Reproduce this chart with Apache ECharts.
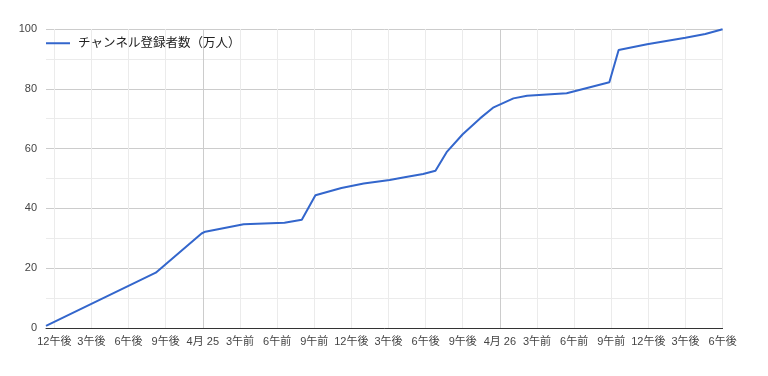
<!DOCTYPE html>
<html>
<head>
<meta charset="utf-8">
<script src="https://cdn.jsdelivr.net/npm/echarts@6/dist/echarts.min.js"></script>
<style>
  html, body { margin: 0; padding: 0; background: #fff; }
  #chart { width: 768px; height: 376px; }
</style>
</head>
<body>
<div id="chart"></div>
<script>
// hours counted from 4月24 12:00 (12午後)
var hours = [-0.67, 8.2, 11.9, 12.2, 15.3, 18.6, 20.0, 21.1, 23.2, 25.0, 27.1, 28.3, 29.8, 30.8,
             31.7, 33.0, 34.4, 35.5, 37.1, 38.2, 41.4, 44.85, 45.6, 47.9, 51.0, 52.6, 54.0];
var subscribers = [0.7, 18.5, 31.6, 32.2, 34.7, 35.2, 36.2, 44.4, 46.8, 48.3, 49.5, 50.4, 51.5, 52.6,
                   58.8, 64.8, 70.1, 73.8, 76.8, 77.7, 78.5, 82.2, 93.0, 94.9, 97.1, 98.3, 99.9];
var tickLabels = ['12午後', '3午後', '6午後', '9午後', '4月 25', '3午前', '6午前', '9午前',
                  '12午後', '3午後', '6午後', '9午後', '4月 26', '3午前', '6午前', '9午前',
                  '12午後', '3午後', '6午後'];
var seriesName = 'チャンネル登録者数（万人）';

var chartDom = document.getElementById('chart');
var myChart = echarts.init(chartDom);

var lineData = [];
for (var i = 0; i < hours.length; i++) {
  lineData.push([hours[i], subscribers[i]]);
}

var light = '#ebebeb';
var dark = '#cccccc';

var option = {
  animation: false,
  textStyle: {
    fontFamily: '"Liberation Sans", Arial, "Noto Sans CJK JP", sans-serif'
  },
  legend: {
    data: [seriesName],
    left: 46,
    top: 37,
    padding: 0,
    icon: 'rect',
    itemWidth: 24,
    itemHeight: 2,
    textStyle: { fontSize: 12.5, color: '#222', padding: [0, 0, 0, 3] }
  },
  grid: [
    { left: 46, right: 45.4, top: 29, bottom: 48 },
    { left: 54.3, right: 45.4, top: 29, bottom: 48 }
  ],
  xAxis: [
    {
      gridIndex: 0,
      type: 'value',
      min: -0.67,
      max: 54,
      axisLine: { show: true, lineStyle: { color: '#333', width: 1 } },
      axisTick: { show: false },
      axisLabel: { show: false },
      splitLine: { show: false }
    },
    {
      gridIndex: 1,
      type: 'value',
      min: 0,
      max: 54,
      interval: 3,
      axisLine: { show: false },
      axisTick: { show: false },
      axisLabel: {
        color: '#444',
        fontSize: 11,
        margin: 8,
        formatter: function (v) { return tickLabels[Math.round(v / 3)]; }
      },
      splitLine: {
        show: true,
        lineStyle: { color: [light, light, light, light, dark, light, light, light], width: 1 }
      }
    }
  ],
  yAxis: [
    {
      gridIndex: 0,
      type: 'value',
      min: 0,
      max: 100,
      interval: 20,
      axisLine: { show: false },
      axisTick: { show: false },
      axisLabel: { color: '#444', fontSize: 11, margin: 9 },
      splitLine: { show: true, lineStyle: { color: dark } },
      minorTick: { show: false, splitNumber: 2 },
      minorSplitLine: { show: true, lineStyle: { color: light } }
    },
    {
      gridIndex: 1,
      type: 'value',
      min: 0,
      max: 100,
      show: false
    }
  ],
  series: [
    {
      name: seriesName,
      type: 'line',
      xAxisIndex: 0,
      yAxisIndex: 0,
      data: lineData,
      showSymbol: false,
      color: '#3366cc',
      lineStyle: { color: '#3366cc', width: 2 },
      z: 5
    }
  ]
};

option && myChart.setOption(option);
</script>
</body>
</html>
